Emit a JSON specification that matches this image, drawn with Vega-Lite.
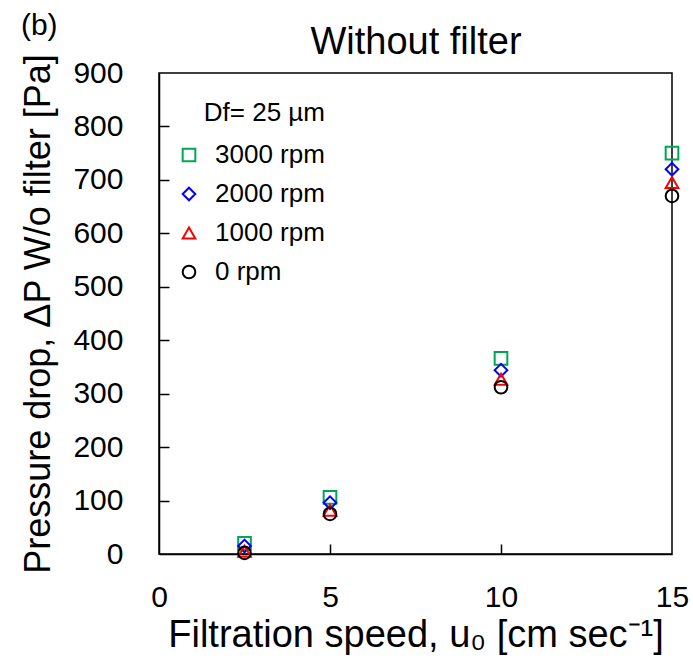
{
  "$schema": "https://vega.github.io/schema/vega-lite/v6.json",
  "width": 513,
  "height": 481,
  "padding": {"left": 20, "top": 11, "right": 2, "bottom": 2},
  "title": {"text": "(b)", "anchor": "start", "frame": "bounds", "fontSize": 30, "font": "Liberation Sans", "fontWeight": "normal", "color": "#000", "offset": -18},
  "config": {
    "font": "Liberation Sans",
    "view": {"stroke": "#000", "strokeWidth": 1.5},
    "axis": {"grid": false, "domainColor": "#000", "domainWidth": 1.5, "tickColor": "#000", "tickWidth": 1.5, "labelColor": "#000", "titleColor": "#000", "labelFont": "Liberation Sans", "titleFont": "Liberation Sans", "titleFontWeight": "normal"},
    "legend": {"labelFont": "Liberation Sans", "titleFont": "Liberation Sans", "labelColor": "#000", "titleColor": "#000"}
  },
  "data": {"values": [
    {"u": 2.5, "dp": 20, "rpm": "3000 rpm"},
    {"u": 5, "dp": 106, "rpm": "3000 rpm"},
    {"u": 10, "dp": 366, "rpm": "3000 rpm"},
    {"u": 15, "dp": 750, "rpm": "3000 rpm"},
    {"u": 2.5, "dp": 15, "rpm": "2000 rpm"},
    {"u": 5, "dp": 96, "rpm": "2000 rpm"},
    {"u": 10, "dp": 344, "rpm": "2000 rpm"},
    {"u": 15, "dp": 720, "rpm": "2000 rpm"},
    {"u": 2.5, "dp": 5, "rpm": "1000 rpm"},
    {"u": 5, "dp": 82, "rpm": "1000 rpm"},
    {"u": 10, "dp": 327, "rpm": "1000 rpm"},
    {"u": 15, "dp": 695, "rpm": "1000 rpm"},
    {"u": 2.5, "dp": 2, "rpm": "0 rpm"},
    {"u": 5, "dp": 75, "rpm": "0 rpm"},
    {"u": 10, "dp": 312, "rpm": "0 rpm"},
    {"u": 15, "dp": 670, "rpm": "0 rpm"}
  ]},
  "layer": [
    {
      "mark": {"type": "point", "filled": false, "strokeWidth": 2, "size": 160, "opacity": 1},
      "encoding": {
        "x": {"field": "u", "type": "quantitative", "scale": {"domain": [0, 15], "nice": false},
          "axis": {"orient": "bottom", "values": [0, 5, 10, 15], "title": "Filtration speed, u₀ [cm sec⁻¹]", "titleFontSize": 38, "labelFontSize": 30, "ticks": false, "labelPadding": 28, "titlePadding": 4, "labelFlush": false}},
        "y": {"field": "dp", "type": "quantitative", "scale": {"domain": [0, 900], "nice": false},
          "axis": {"orient": "left", "values": [0, 100, 200, 300, 400, 500, 600, 700, 800, 900], "title": "Pressure drop, ΔP W/o filter [Pa]", "titleFontSize": 36, "labelFontSize": 30, "ticks": false, "labelPadding": 36, "titlePadding": 15, "labelFlush": false}},
        "shape": {"field": "rpm", "type": "nominal", "sort": ["3000 rpm", "2000 rpm", "1000 rpm", "0 rpm"],
          "scale": {"domain": ["3000 rpm", "2000 rpm", "1000 rpm", "0 rpm"], "range": ["square", "diamond", "triangle-up", "circle"]},
          "legend": {"title": "Df= 25 µm", "orient": "none", "legendX": 17, "legendY": 27, "titleAnchor": "end", "titleFontSize": 26, "titleFontWeight": "normal", "labelFontSize": 26, "symbolSize": 160, "symbolStrokeWidth": 2, "rowPadding": 13, "titlePadding": 16, "labelOffset": 13}},
        "color": {"field": "rpm", "type": "nominal", "sort": ["3000 rpm", "2000 rpm", "1000 rpm", "0 rpm"],
          "scale": {"domain": ["3000 rpm", "2000 rpm", "1000 rpm", "0 rpm"], "range": ["#00a651", "#0000ff", "#ff0000", "#000000"]},
          "legend": {"title": "Df= 25 µm", "orient": "none", "legendX": 17, "legendY": 27, "titleAnchor": "end", "titleFontSize": 26, "titleFontWeight": "normal", "labelFontSize": 26, "symbolSize": 160, "symbolStrokeWidth": 2, "rowPadding": 13, "titlePadding": 16, "labelOffset": 13}}
      }
    },
    {
      "mark": {"type": "point", "opacity": 0},
      "encoding": {
        "x": {"field": "u", "type": "quantitative", "scale": {"domain": [0, 15], "nice": false},
          "axis": {"orient": "top", "title": "Without filter", "labels": false, "ticks": false, "domain": false, "titleFontSize": 38, "titlePadding": 12}},
        "y": {"field": "dp", "type": "quantitative", "scale": {"domain": [0, 900], "nice": false},
          "axis": {"orient": "left", "offset": -10, "values": [100, 200, 300, 400, 500, 600, 700, 800], "title": null, "labels": false, "domain": false, "ticks": true, "tickSize": 10}}
      }
    },
    {
      "mark": {"type": "point", "opacity": 0},
      "encoding": {
        "x": {"field": "u", "type": "quantitative", "scale": {"domain": [0, 15], "nice": false},
          "axis": {"orient": "bottom", "offset": -10, "values": [5, 10], "title": null, "labels": false, "domain": false, "ticks": true, "tickSize": 10}},
        "y": {"field": "dp", "type": "quantitative", "scale": {"domain": [0, 900], "nice": false}, "axis": null}
      }
    }
  ],
  "resolve": {"axis": {"x": "independent", "y": "independent"}}
}
